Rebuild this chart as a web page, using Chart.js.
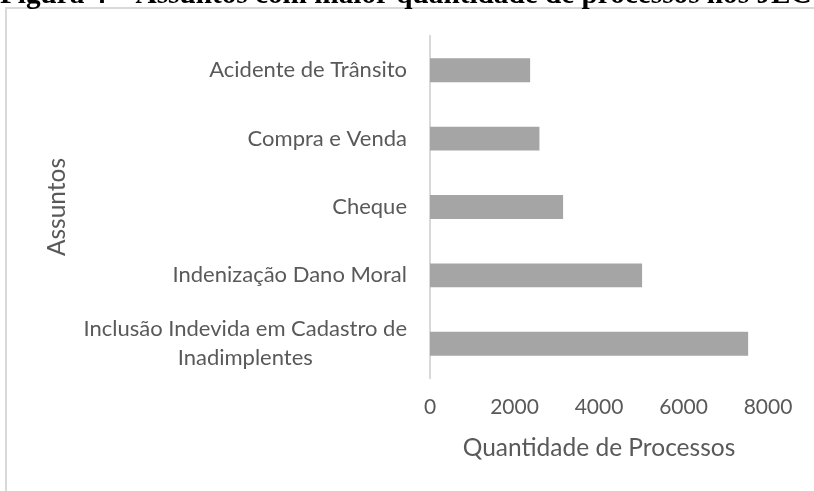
<!DOCTYPE html>
<html>
<head>
    <title>Assuntos com maior quantidade de processos</title>
    <style>
        body {
            margin: 0;
            background: #ffffff;
        }
        #chartContainer {
            width: 814px;
            height: 491px;
        }
    </style>
    <script src="https://cdn.jsdelivr.net/npm/chart.js"></script>
</head>
<body>
    <div id="chartContainer">
        <canvas id="myChart"></canvas>
    </div>

    <script>
        // data
        let assuntos = [
            'Acidente de Trânsito',
            'Compra e Venda',
            'Cheque',
            'Indenização Dano Moral',
            ['Inclusão Indevida em Cadastro de', 'Inadimplentes']
        ];
        let processos = [2370, 2590, 3150, 5020, 7530];
        let xTicks = [0, 2000, 4000, 6000, 8000];

        let figureTitle = 'Figura 4 – Assuntos com maior quantidade de processos nos JEC';
        let textColor = '#595959';
        let fontFamily = 'Lato';

        // page frame + clipped figure caption at the top
        let framePlugin = {
            id: 'frame',
            beforeDraw(chart) {
                let c = chart.ctx;
                c.save();
                c.strokeStyle = '#d9d9d9';
                c.lineWidth = 2;
                c.beginPath();
                c.moveTo(6, chart.height);
                c.lineTo(6, 8);
                c.lineTo(chart.width, 8);
                c.stroke();

                c.fillStyle = '#000000';
                c.font = 'bold 26px "Liberation Serif"';
                let w = c.measureText(figureTitle).width;
                let size = 26 * 812 / w;
                c.font = 'bold ' + size + 'px "Liberation Serif"';
                c.textBaseline = 'alphabetic';
                c.fillText(figureTitle, 0, 3);
                c.restore();
            }
        };

        // category labels: each block right-aligned, extra lines centred under the widest line
        let labelPlugin = {
            id: 'catLabels',
            afterDraw(chart) {
                let c = chart.ctx;
                let scale = chart.scales.y;
                let lineH = 29;
                c.save();
                c.font = '22px ' + fontFamily;
                c.fillStyle = textColor;
                c.textAlign = 'center';
                c.textBaseline = 'middle';
                assuntos.forEach(function(label, i) {
                    let lines = Array.isArray(label) ? label : [label];
                    let widest = Math.max.apply(null, lines.map(l => c.measureText(l).width));
                    let cx = scale.right - 23 - widest / 2;
                    let y0 = scale.getPixelForTick(i) - (lines.length - 1) * lineH / 2;
                    lines.forEach(function(line, j) {
                        c.fillText(line, cx, y0 + j * lineH);
                    });
                });
                c.restore();
            }
        };

        let ctx = document.getElementById('myChart').getContext('2d');
        let myChart = new Chart(ctx, {
            type: 'bar',
            data: {
                labels: assuntos,
                datasets: [{
                    label: 'Quantidade de Processos',
                    data: processos,
                    backgroundColor: '#a5a5a5',
                    borderWidth: 0,
                    barPercentage: 0.35,
                    categoryPercentage: 1
                }]
            },
            options: {
                indexAxis: 'y',
                responsive: true,
                maintainAspectRatio: false,
                animation: false,
                layout: {
                    padding: { left: 0, right: 46, top: 36, bottom: 20 }
                },
                plugins: {
                    legend: { display: false },
                    tooltip: { enabled: false }
                },
                scales: {
                    x: {
                        min: 0,
                        max: 8000,
                        afterBuildTicks: function(scale) {
                            scale.ticks = xTicks.map(v => ({ value: v }));
                        },
                        grid: { display: false, drawTicks: false },
                        border: { display: false },
                        ticks: {
                            color: textColor,
                            font: { family: fontFamily, size: 21 },
                            padding: 17,
                            callback: function(value) { return String(value); }
                        },
                        title: {
                            display: true,
                            text: 'Quantidade de Processos',
                            color: textColor,
                            font: { family: fontFamily, size: 24.5 },
                            padding: { top: 0, bottom: 8 }
                        },
                        afterFit: function(scale) {
                            scale.height = 491 - 20 - 378;
                        }
                    },
                    y: {
                        grid: { display: false, drawTicks: false },
                        border: { display: true, color: '#d9d9d9', width: 2 },
                        ticks: { display: false },
                        title: {
                            display: true,
                            text: 'Assuntos',
                            color: textColor,
                            font: { family: fontFamily, size: 24.5 },
                            padding: { top: 42, bottom: 0 }
                        },
                        afterFit: function(scale) {
                            scale.width = 430;
                        }
                    }
                }
            },
            plugins: [framePlugin, labelPlugin]
        });
    </script>
</body>
</html>
